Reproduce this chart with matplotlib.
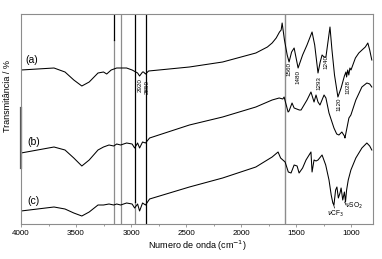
import matplotlib
matplotlib.use("Agg")
import matplotlib.pyplot as plt
import numpy as np

plt.rcParams['font.family'] = ['Liberation Sans', 'DejaVu Sans']

# spectra (wavenumber, transmittance in arbitrary offset units)
wn_a = [4000, 3850, 3700, 3600, 3520, 3447, 3380, 3300, 3250, 3221, 3180, 3130, 3040, 2990,
        2940, 2922, 2895, 2886, 2868, 2840, 2700, 2469, 2167, 1865, 1760, 1717, 1680, 1650,
        1635, 1626, 1605, 1580, 1563, 1540, 1517, 1499, 1481, 1440, 1400, 1354, 1330, 1300,
        1280, 1263, 1245, 1228, 1191, 1173, 1150, 1119, 1090, 1060, 1046, 1040, 1030, 1020,
        1010, 1000, 960, 929, 900, 870, 847, 830, 811]
t_a = [154, 155, 156, 152, 144, 138, 142, 151, 152, 150, 154, 156, 156, 154,
       151, 148, 152, 152, 150, 153, 154.5, 157, 162, 171, 177, 181, 186, 192,
       194, 201, 184, 169, 162, 172, 176, 166, 156, 169, 179, 192, 179, 151,
       162, 169, 167, 167, 197, 174, 149, 127, 136, 148, 152, 147, 154, 149,
       156, 154, 166, 171, 174, 177, 181, 174, 164]

wn_b = [4000, 3850, 3700, 3600, 3520, 3447, 3380, 3300, 3250, 3200, 3157, 3130, 3094, 3040,
        2990, 2967, 2940, 2922, 2895, 2868, 2831, 2469, 2167, 1865, 1717, 1653, 1620, 1608,
        1572, 1563, 1536, 1517, 1470, 1454, 1400, 1364, 1336, 1318, 1300, 1282, 1245, 1228,
        1200, 1155, 1130, 1110, 1083, 1060, 1055, 1046, 1019, 1001, 956, 901, 856, 830, 811]
t_b = [71, 74, 77, 74, 66, 58, 64, 74, 77, 79, 78, 80, 79, 81,
       80, 76, 81, 76, 82, 81, 86, 99, 107, 117, 124, 126, 125, 127,
       112, 113, 121, 116, 114, 114, 124, 132, 122, 129, 122, 119, 129, 126,
       111, 96, 90, 89, 92, 88, 86, 91, 106, 109, 124, 137, 141, 140, 137]

wn_c = [4000, 3850, 3700, 3600, 3520, 3447, 3380, 3300, 3250, 3200, 3157, 3130, 3094, 3040,
        2990, 2967, 2940, 2922, 2895, 2868, 2831, 2469, 2167, 1865, 1717, 1663, 1640, 1599,
        1570, 1545, 1517, 1490, 1472, 1440, 1409, 1364, 1354, 1336, 1318, 1300, 1263, 1230,
        1200, 1180, 1165, 1155, 1140, 1128, 1115, 1100, 1090, 1075, 1060, 1050, 1040, 1025,
        1001, 956, 901, 856, 830, 811]
t_c = [13, 15, 17, 15, 11, 8, 12, 19, 19, 20, 19, 20, 19, 21,
       20, 16, 20, 13, 21, 19, 25, 37, 46, 57, 67, 72, 66, 62,
       52, 51, 59, 58, 51, 56, 64, 72, 52, 64, 63, 64, 69, 59,
       44, 29, 21, 19, 34, 37, 26, 31, 36, 24, 32, 22, 34, 44,
       54, 66, 76, 81, 78, 74]

curve_names = ['(a)', '(b)', '(c)']
name_pos = [(3905, 164), (3880, 82), (3890, 23)]

# band labels on curve (a): text, wavenumber, height
band_txt = ['2920', '2850', '1560', '1480', '1293', '1240', '1120', '1028']
band_wn = [2918, 2855, 1563, 1481, 1291, 1228, 1110, 1028]
band_t = [139, 137, 155, 147, 141, 162, 120, 137]

# reference lines
ref_wn = [3158, 3094, 2967, 2868, 1600]

fig = plt.figure(figsize=(3.82, 2.59), dpi=100)
ax = fig.add_axes([21/382, 1-224/259, 352/382, 210/259])

gray = '#8c8c8c'
# vertical marker lines (partly black, partly gray as in the source)
ax.axvline(ref_wn[0], ymin=0, ymax=0.876, color=gray, lw=0.9)
ax.axvline(ref_wn[0], ymin=0.876, ymax=1, color='black', lw=0.9)
ax.axvline(ref_wn[1], color=gray, lw=0.9)
ax.axvline(ref_wn[2], ymin=0, ymax=0.105, color=gray, lw=0.9)
ax.axvline(ref_wn[2], ymin=0.105, ymax=1, color='black', lw=0.9)
ax.axvline(ref_wn[3], color='black', lw=0.9)
ax.axvline(ref_wn[4], color=gray, lw=1.0)

for w, t in [(wn_a, t_a), (wn_b, t_b), (wn_c, t_c)]:
    ax.plot(w, t, color='black', lw=0.75)

for n, (x, y) in zip(curve_names, name_pos):
    ax.text(x, y, n, fontsize=7.5, ha='center', va='center')

for s, x, y in zip(band_txt, band_wn, band_t):
    ax.text(x, y, s, fontsize=4.5, rotation=90, ha='center', va='center')

# assignments on curve (c)
ax.text(1140, 10, r'$\nu$CF$_3$', fontsize=4.8, ha='center', va='center')
ax.text(975, 18, r'$\nu$SO$_2$', fontsize=4.8, ha='center', va='center')
ax.plot([1150, 1162], [16, 21], color='black', lw=0.5)
ax.plot([1045, 1058], [19, 22], color='black', lw=0.5)

ax.set_xlim(4000, 800)
ax.set_ylim(0, 210)
ax.set_xticks([4000, 3500, 3000, 2500, 2000, 1500, 1000])
ax.set_xticks(np.arange(3750, 800, -500), minor=True)
ax.set_yticks([])
ax.tick_params(axis='x', labelsize=5.8, length=2, width=0.6, color=gray, pad=2)
ax.tick_params(axis='x', which='minor', length=1.5, width=0.6, color=gray)
for sp in ax.spines.values():
    sp.set_color(gray)
    sp.set_linewidth(0.8)
# darker patch on the left frame
ax.plot([0, 0], [(224-168)/210, (224-108)/210], transform=ax.transAxes,
        color='#555555', lw=1.6, clip_on=False)

ax.set_xlabel('Numero de onda (cm$^{-1}$)', fontsize=6.5, labelpad=1.5)
fig.text(8/382, 1-96/259, 'Transmitância / %', rotation=90, fontsize=6.5,
         ha='center', va='center')

fig.savefig('out.png', dpi=100)
